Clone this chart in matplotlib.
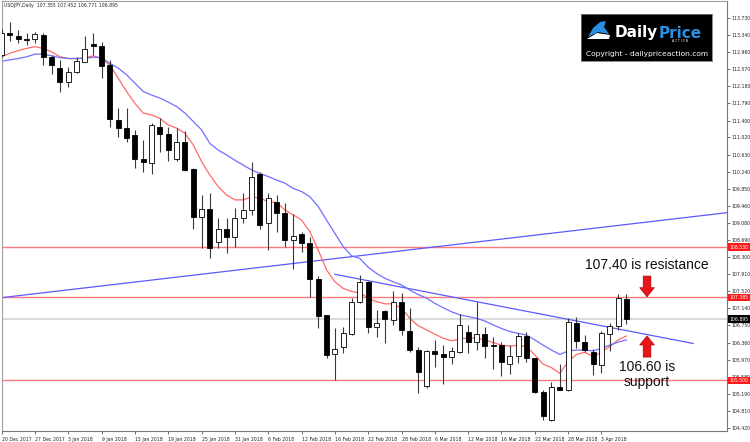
import matplotlib
matplotlib.use("Agg")
import matplotlib.pyplot as plt
from matplotlib.patches import FancyArrowPatch, Polygon

# daily candles, bar index 0 = 20 Dec 2017
opens = [112.89, 113.40, 113.33, 113.25, 113.25, 113.34, 112.85, 112.60, 112.27, 112.50,
         112.74, 113.13, 113.09, 112.66, 111.41, 111.24, 111.07, 110.52, 110.43, 111.25,
         111.09, 110.53, 110.92, 110.30, 109.20, 109.39, 108.65, 108.93, 108.75, 109.18,
         109.37, 110.19, 109.07, 109.55, 109.31, 108.70, 108.82, 108.61, 107.80, 106.98,
         106.09, 106.27, 106.55, 107.29, 107.74, 106.71, 107.08, 106.87, 107.27, 106.63,
         106.19, 105.38, 106.17, 106.10, 106.03, 106.15, 106.61, 106.38, 106.55, 106.30,
         106.30, 105.87, 106.06, 106.51, 106.00, 105.24, 104.60, 105.35, 105.28, 106.80,
         106.38, 106.14, 105.85, 106.56, 106.74, 107.355]
highs = [113.48, 113.65, 113.46, 113.39, 113.41, 113.38, 112.89, 112.78, 112.62, 112.85,
         113.31, 113.40, 113.19, 112.78, 111.68, 111.68, 111.19, 110.96, 111.34, 111.45,
         111.26, 111.23, 111.16, 110.32, 109.71, 109.75, 109.18, 109.18, 109.41, 109.75,
         110.47, 110.24, 109.75, 109.71, 109.52, 109.29, 108.88, 108.75, 107.87, 106.99,
         106.68, 106.72, 107.37, 107.89, 107.76, 107.10, 107.10, 107.52, 107.49, 107.14,
         106.27, 106.19, 106.42, 106.30, 106.27, 107.00, 106.76, 107.29, 106.72, 106.49,
         106.37, 106.30, 106.57, 106.61, 106.01, 105.28, 105.46, 105.87, 106.91, 106.95,
         106.53, 106.21, 106.62, 106.80, 107.46, 107.452]
lows = [112.84, 113.21, 113.16, 113.12, 113.16, 112.66, 112.46, 112.06, 112.17, 112.47,
        112.72, 112.89, 112.36, 111.26, 111.03, 110.91, 110.32, 110.24, 110.18, 110.69,
        110.49, 110.48, 110.26, 108.95, 108.50, 108.27, 108.50, 108.39, 108.54, 109.07,
        109.26, 108.95, 108.46, 108.88, 108.54, 108.03, 108.42, 107.40, 106.68, 106.00,
        105.51, 106.12, 106.53, 107.25, 106.57, 106.49, 106.36, 106.76, 106.53, 106.15,
        105.21, 105.32, 105.81, 105.42, 105.87, 106.12, 106.12, 106.19, 106.02, 105.77,
        105.59, 105.64, 105.89, 105.93, 105.21, 104.60, 104.58, 105.28, 105.26, 106.23,
        106.14, 105.62, 105.66, 106.16, 106.64, 106.771]
closes = [113.39, 113.34, 113.25, 113.23, 113.37, 112.85, 112.66, 112.27, 112.51, 112.76,
          113.02, 113.09, 112.64, 111.43, 111.24, 111.00, 110.52, 110.45, 111.30, 111.09,
          110.73, 110.92, 110.28, 109.20, 109.39, 108.50, 108.93, 108.75, 109.18, 109.37,
          110.13, 109.03, 109.64, 109.30, 108.70, 108.77, 108.63, 107.80, 106.97, 106.08,
          106.21, 106.57, 107.29, 107.74, 106.72, 106.81, 106.89, 107.29, 106.65, 106.19,
          105.70, 106.17, 106.10, 106.04, 106.17, 106.77, 106.38, 106.55, 106.28, 106.28,
          105.91, 106.06, 106.51, 106.00, 105.24, 104.70, 105.36, 105.28, 106.82, 106.40,
          106.19, 105.87, 106.57, 106.74, 107.37, 106.895]

# moving averages
ma_fast = [112.85, 112.93, 112.99, 113.04, 113.08, 113.04, 112.96, 112.85, 112.81, 112.81,
           112.83, 112.87, 112.81, 112.66, 112.36, 112.06, 111.79, 111.57, 111.53, 111.45,
           111.30, 111.23, 111.11, 110.85, 110.47, 110.16, 109.90, 109.71, 109.60, 109.60,
           109.67, 109.64, 109.56, 109.54, 109.37, 109.26, 109.14, 108.88, 108.46, 108.01,
           107.74, 107.59, 107.52, 107.49, 107.37, 107.29, 107.24, 107.24, 107.14, 106.91,
           106.74, 106.65, 106.55, 106.46, 106.40, 106.44, 106.47, 106.46, 106.42, 106.36,
           106.30, 106.28, 106.30, 106.27, 106.08, 105.87, 105.79, 105.66, 105.93, 106.09,
           106.14, 106.04, 106.14, 106.27, 106.42, 106.51]
ma_slow = [112.75, 112.78, 112.81, 112.85, 112.91, 112.91, 112.87, 112.83, 112.81, 112.81,
           112.81, 112.84, 112.83, 112.70, 112.59, 112.44, 112.25, 112.06, 111.98, 111.91,
           111.82, 111.72, 111.57, 111.38, 111.19, 110.88, 110.73, 110.62, 110.50, 110.39,
           110.28, 110.20, 110.13, 110.05, 109.98, 109.86, 109.79, 109.67, 109.45, 109.14,
           108.84, 108.54, 108.33, 108.27, 108.07, 107.93, 107.82, 107.74, 107.67, 107.55,
           107.45, 107.37, 107.25, 107.15, 107.06, 106.99, 106.95, 106.91, 106.85, 106.76,
           106.68, 106.61, 106.57, 106.53, 106.42, 106.30, 106.19, 106.09, 106.17, 106.19,
           106.19, 106.17, 106.23, 106.30, 106.37, 106.42]

date_labels = ["20 Dec 2017", "27 Dec 2017", "3 Jan 2018", "9 Jan 2018", "15 Jan 2018",
               "19 Jan 2018", "25 Jan 2018", "31 Jan 2018", "6 Feb 2018", "12 Feb 2018",
               "16 Feb 2018", "22 Feb 2018", "28 Feb 2018", "6 Mar 2018", "12 Mar 2018",
               "16 Mar 2018", "22 Mar 2018", "28 Mar 2018", "3 Apr 2018"]
date_bars = [4 * k for k in range(len(date_labels))]
price_ticks = [113.730, 113.340, 112.960, 112.570, 112.180, 111.790, 111.400, 111.020,
               110.630, 110.240, 109.850, 109.460, 109.080, 108.690, 108.300, 107.910,
               107.520, 107.140, 106.750, 106.360, 105.970, 105.580, 105.190, 104.810,
               104.420]

levels = [108.530, 107.385, 105.500]
last_price = 106.895
trend_up_x, trend_up_y = [0, 87.1], [107.38, 109.31]
trend_dn_x, trend_dn_y = [40, 83], [107.91, 106.34]

fig = plt.figure(figsize=(7.5, 4.42), dpi=100)
ax = fig.add_axes([1.5 / 750, 1 - 431 / 442, 725.5 / 750, 430 / 442])
ax.set_xlim(-0.02, 87.07)
ax.set_ylim(104.352, 114.116)

# horizontal levels, trend lines
for lv in levels:
    ax.axhline(lv, color="#ff7a7a", lw=1.0, zorder=1)
ax.axhline(last_price, color="#d8d8d8", lw=1.3, zorder=1)
ax.plot(trend_up_x, trend_up_y, color="#5a5aff", lw=0.9, zorder=2)
ax.plot(trend_dn_x, trend_dn_y, color="#5a5aff", lw=0.9, zorder=2)

bars = list(range(len(opens)))
ax.plot(bars, ma_fast, color="#ff6a6a", lw=0.9, zorder=2)
ax.plot(bars, ma_slow, color="#6f6fff", lw=0.9, zorder=2)

# candles
ax.vlines(bars, lows, highs, color="#3a3a3a", lw=0.8, zorder=3)
bodies = [max(abs(c - o), 0.012) for o, c in zip(opens, closes)]
bottoms = [min(o, c) for o, c in zip(opens, closes)]
faces = ["white" if c >= o else "black" for o, c in zip(opens, closes)]
ax.bar(bars, bodies, bottom=bottoms, width=0.6, color=faces, edgecolor="black",
       linewidth=0.6, zorder=4)

# axes styling
for s in ["left", "top"]:
    ax.spines[s].set_color("#a0a0a0")
for s in ["right", "bottom"]:
    ax.spines[s].set_color("#777777")
ax.yaxis.tick_right()
ax.set_yticks(price_ticks)
ax.set_yticklabels([f"{p:.3f}" for p in price_ticks])
ax.set_xticks(date_bars)
ax.set_xticklabels(date_labels, ha="left")
ax.tick_params(axis="both", length=2, width=0.6, color="#555555", labelsize=3.3,
               labelcolor="#222222", pad=1.5)
ax.tick_params(axis="x", pad=2)

ytr = ax.get_yaxis_transform()
for lv in levels:
    ax.text(1.0035, lv, f"{lv:.3f}", transform=ytr, fontsize=3.3, color="white",
            va="center", ha="left", zorder=6,
            bbox=dict(boxstyle="square,pad=0.25", fc="#ff1a1a", ec="none"))
ax.text(1.0035, last_price, f"{last_price:.3f}", transform=ytr, fontsize=3.3,
        color="white", va="center", ha="left", zorder=6,
        bbox=dict(boxstyle="square,pad=0.25", fc="black", ec="none"))

# annotations
big = dict(family=["Liberation Sans", "DejaVu Sans"], fontsize=10, color="#111111")
ax.text(77.47, 108.12, "107.40 is resistance", ha="center", va="center", **big)
ax.text(77.47, 105.80, "106.60 is", ha="center", va="center", **big)
ax.text(77.47, 105.46, "support", ha="center", va="center", **big)
arr = dict(arrowstyle="simple,head_width=10.5,head_length=6.5,tail_width=5.5",
           mutation_scale=1, fc="#e8151b", ec="#b00000", lw=0.5,
           shrinkA=0, shrinkB=0, zorder=6)
ax.add_patch(FancyArrowPatch((77.47, 107.87), (77.47, 107.40), **arr))
ax.add_patch(FancyArrowPatch((77.47, 106.03), (77.47, 106.51), **arr))

fig.text(4 / 750, 1 - 5 / 442, "USDJPY,Daily  107.355 107.452 106.771 106.895",
         fontsize=3.3, color="#222222", va="center", ha="left")

# logo box
logo = fig.add_axes([581 / 750, 1 - 61 / 442, 131 / 750, 47 / 442])
logo.set_facecolor("black")
logo.set_xlim(0, 131)
logo.set_ylim(47, 0)
logo.set_xticks([])
logo.set_yticks([])
for s in logo.spines.values():
    s.set_color("#777777")
    s.set_linewidth(0.6)
logo.add_patch(Polygon([(7, 23), (12, 14), (19, 8), (25, 7), (23, 13), (28, 20), (17, 18)],
                       closed=True, fc="#2a8fe0", ec="none"))
logo.add_patch(Polygon([(6, 25), (16, 19), (29, 21), (28, 25)], closed=True,
                       fc="white", ec="none"))
t1 = logo.text(34, 19, "Daily", color="white", fontsize=11, fontweight="bold",
               va="center", ha="left")
logo.annotate("Price", xy=(1, 0), xycoords=t1, va="bottom", ha="left",
              color="#2a8fe0", fontsize=11, fontweight="bold")
logo.text(99, 27.5, "A C T I O N", color="white", fontsize=2.2, ha="center", va="center")
logo.text(66, 40, "Copyright - dailypriceaction.com", color="white", fontsize=5.4,
          ha="center", va="center")

fig.savefig("out.png", dpi=100, facecolor="white")
